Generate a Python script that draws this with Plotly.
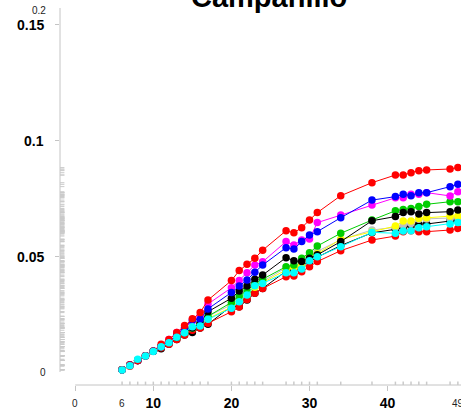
import plotly.graph_objects as go

days = [6, 7, 8, 9, 10, 11, 12, 13, 14, 15, 16, 17, 20, 21, 22, 23, 24,
        27, 28, 29, 30, 31, 34, 38, 41, 42, 43, 44, 45, 48, 49]

s_black2 = [0.001, 0.003, 0.005, 0.007, 0.009, 0.010, 0.012, 0.014, 0.016, 0.017, 0.019, 0.0206,
            0.0284, 0.0281, 0.0310, 0.0340, 0.0360, 0.0435, 0.0440, 0.0461, 0.0475, 0.0495,
            0.0545, 0.0600, 0.0615, 0.0622, 0.0629, 0.0638, 0.0638, 0.0652, 0.0655]
s_red2 = [0.001, 0.0025, 0.005, 0.007, 0.009, 0.0105, 0.012, 0.014, 0.016, 0.018, 0.019, 0.021,
          0.0260, 0.0280, 0.0313, 0.0340, 0.0360, 0.0411, 0.0414, 0.0432, 0.0454, 0.0476,
          0.0523, 0.0569, 0.0586, 0.0605, 0.0609, 0.0605, 0.0605, 0.0612, 0.0619]
s_gray = [0.001, 0.003, 0.005, 0.007, 0.009, 0.011, 0.013, 0.015, 0.017, 0.019, 0.021, 0.024,
          0.0290, 0.0315, 0.0340, 0.0370, 0.0390, 0.0450, 0.0455, 0.0470, 0.0500, 0.0520,
          0.0570, 0.0612, 0.0624, 0.0634, 0.0640, 0.0658, 0.0660, 0.0662, 0.0665]
s_yellow = [0.001, 0.003, 0.005, 0.007, 0.009, 0.011, 0.013, 0.015, 0.017, 0.019, 0.021, 0.023,
            0.0280, 0.0310, 0.0335, 0.0365, 0.0385, 0.0440, 0.0450, 0.0460, 0.0500, 0.0510,
            0.0572, 0.0605, 0.0629, 0.0651, 0.0651, 0.0662, 0.0665, 0.0672, 0.0672]
s_green = [0.001, 0.003, 0.005, 0.007, 0.009, 0.011, 0.013, 0.015, 0.017, 0.019, 0.021, 0.024,
           0.0300, 0.0328, 0.0350, 0.0380, 0.0400, 0.0454, 0.0461, 0.0490, 0.0514, 0.0543,
           0.0598, 0.0655, 0.0695, 0.0701, 0.0705, 0.0713, 0.0723, 0.0734, 0.0734]
s_black1 = [0.001, 0.003, 0.005, 0.007, 0.009, 0.011, 0.013, 0.015, 0.017, 0.019, 0.021, 0.026,
            0.0318, 0.0349, 0.0371, 0.0400, 0.0418, 0.0493, 0.0480, 0.0476, 0.0490, 0.0505,
            0.0562, 0.0652, 0.0670, 0.0687, 0.0691, 0.0681, 0.0687, 0.0691, 0.0698]
s_magenta = [0.001, 0.003, 0.005, 0.007, 0.009, 0.011, 0.014, 0.017, 0.019, 0.022, 0.024, 0.0293,
             0.0363, 0.0394, 0.0428, 0.0461, 0.0475, 0.0562, 0.0547, 0.0569, 0.0573, 0.0644,
             0.0677, 0.0720, 0.0751, 0.0751, 0.0766, 0.0766, 0.0773, 0.0759, 0.0777]
s_blue = [0.001, 0.003, 0.005, 0.007, 0.009, 0.011, 0.013, 0.016, 0.019, 0.0224, 0.0227, 0.0272,
          0.0343, 0.0371, 0.0397, 0.0430, 0.0461, 0.0536, 0.0530, 0.0562, 0.0591, 0.0605,
          0.0665, 0.0741, 0.0756, 0.0766, 0.0760, 0.0773, 0.0773, 0.0799, 0.0809]
s_red1 = [0.001, 0.003, 0.005, 0.007, 0.009, 0.012, 0.014, 0.017, 0.020, 0.023, 0.0256, 0.031,
          0.0394, 0.0437, 0.0464, 0.0490, 0.0525, 0.0609, 0.0600, 0.0622, 0.0655, 0.0687,
          0.0760, 0.0816, 0.0849, 0.0849, 0.0859, 0.0868, 0.0871, 0.0875, 0.0881]
s_cyan = [0.0009, 0.0027, 0.0055, 0.0069, 0.0088, 0.0109, 0.0126, 0.0150, 0.0169, 0.0195, 0.0198, 0.0227,
          0.0275, 0.0303, 0.0332, 0.0372, 0.0382, 0.0428, 0.0428, 0.0444, 0.0480, 0.0497,
          0.0540, 0.0602, 0.0598, 0.0608, 0.0609, 0.0622, 0.0626, 0.0638, 0.0644]

series = [
    (s_black2, "#000000"), (s_red2, "#FF0000"), (s_gray, "#BEBEBE"), (s_yellow, "#FFFF00"),
    (s_green, "#00CD00"), (s_black1, "#000000"), (s_magenta, "#FF00FF"), (s_blue, "#0000FF"),
    (s_red1, "#FF0000"), (s_cyan, "#00FFFF"),
]

x_ticks = [0, 10, 20, 30, 40]
x_tick_text = ["", "10", "20", "30", "40"]
y_ticks = [0.05, 0.1, 0.15]
y_tick_text = ["0.05", "0.1", "0.15"]
y_top_label = "0.2"
title_text = "Campanillo"

X_RANGE = [-1.95, 49.4]
Y_RANGE = [-0.0056, 0.1569]
AX_COL = "#C4C4C4"
RUG_COL = "#CACACA"
FONT = "Liberation Sans, Arial, sans-serif"

fig = go.Figure()
for vals, col in series:
    fig.add_trace(go.Scatter(
        x=days, y=vals, mode="lines+markers",
        line=dict(color=col, width=1),
        marker=dict(color=col, size=7.5, line=dict(width=0)),
        showlegend=False, hoverinfo="skip",
    ))

shapes = []
shapes.append(dict(type="line", xref="x", yref="paper", x0=0, x1=X_RANGE[1], y0=0, y1=0,
                   line=dict(color=AX_COL, width=1)))
shapes.append(dict(type="line", xref="paper", yref="y", x0=0, x1=0, y0=0, y1=Y_RANGE[1],
                   line=dict(color=AX_COL, width=1)))
for d in days:
    shapes.append(dict(type="line", xref="x", yref="paper", x0=d, x1=d, y0=0, y1=0.009,
                       line=dict(color=RUG_COL, width=1.5)))
for vals, _ in series:
    for v in vals:
        shapes.append(dict(type="line", xref="paper", yref="y", x0=0, x1=0.011, y0=v, y1=v,
                           line=dict(color=RUG_COL, width=1)))

small = dict(family=FONT, size=10, color="#222222")
bold = dict(family=FONT, size=14, color="#000000")
annotations = [
    dict(text="0", x=0, y=-0.05, xref="x", yref="paper", showarrow=False, font=small,
         xanchor="center", yanchor="middle"),
    dict(text=str(days[0]), x=days[0], y=-0.05, xref="x", yref="paper", showarrow=False, font=small,
         xanchor="center", yanchor="middle"),
    dict(text=str(days[-1]), x=days[-1], y=-0.05, xref="x", yref="paper", showarrow=False, font=small,
         xanchor="center", yanchor="middle"),
    dict(text="0", x=0, y=0, xref="paper", yref="y", showarrow=False, font=small,
         xanchor="right", yanchor="middle", xshift=-13, borderpad=0),
    dict(text=y_top_label, x=0, y=1, xref="paper", yref="paper", showarrow=False, font=small,
         xanchor="right", yanchor="middle", xshift=-13, yshift=-2, borderpad=0),
    dict(text="<b>%s</b>" % title_text, x=0.52, y=1.029, xref="paper", yref="paper", showarrow=False,
         font=dict(family=FONT, size=29, color="#000000"), xanchor="center", yanchor="middle"),
]
for v, t in zip(y_ticks, y_tick_text):
    annotations.append(dict(text="<b>%s</b>" % t, x=0, y=v, xref="paper", yref="y", showarrow=False,
                            font=bold, xanchor="right", yanchor="middle", xshift=-15, yshift=-1,
                            borderpad=0))

fig.update_layout(
    width=461, height=413,
    margin=dict(l=60, r=0, t=8, b=28),
    paper_bgcolor="white", plot_bgcolor="white",
    shapes=shapes, annotations=annotations,
    xaxis=dict(range=X_RANGE, showgrid=False, zeroline=False, showline=False,
               tickvals=x_ticks, ticktext=x_tick_text, ticks="outside", ticklen=5,
               tickcolor=AX_COL, tickwidth=1, automargin=False,
               tickfont=dict(family=FONT, size=14, color="#000000", weight="bold")),
    yaxis=dict(range=Y_RANGE, showgrid=False, zeroline=False, showline=False,
               tickvals=y_ticks, ticks="outside", ticklen=4, showticklabels=False,
               tickcolor=AX_COL, tickwidth=1, automargin=False),
)

fig.write_html("out.html")
